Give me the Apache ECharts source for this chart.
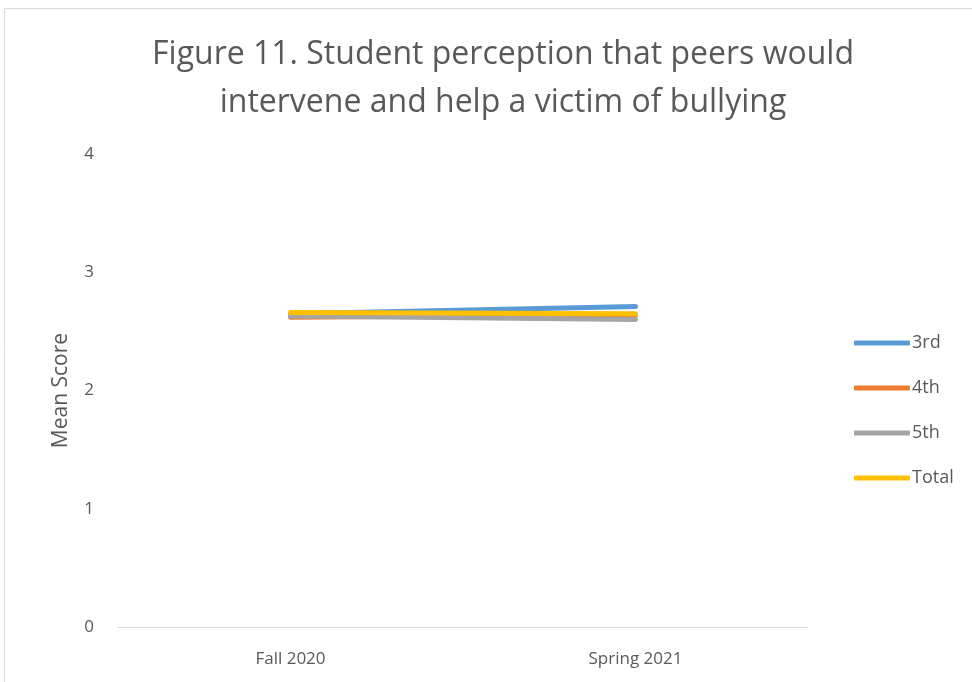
<!DOCTYPE html>
<html><head><meta charset="utf-8">
<script src="https://cdn.jsdelivr.net/npm/echarts@6/dist/echarts.min.js"></script>
<style>html,body{margin:0;padding:0;background:#fff}#c{width:972px;height:682px}</style>
</head><body><div id="c"></div>
<script>
const categories = ['Fall 2020', 'Spring 2021'];
const seriesNames = ['3rd', '4th', '5th', 'Total'];
const third = [2.65, 2.71];
const fourth = [2.62, 2.64];
const fifth = [2.63, 2.60];
const total = [2.66, 2.65];
const colors = ['#5b9bd5', '#ed7d31', '#a5a5a5', '#ffc000'];
const values = [third, fourth, fifth, total];

const chart = echarts.init(document.getElementById('c'));
const font = '"Open Sans", "Liberation Sans", sans-serif';
chart.setOption({
  animation: false,
  color: colors,
  graphic: [{type:'rect', shape:{x:4.5, y:8.5, width:1200, height:1200}, style:{fill:'none', stroke:'#d9d9d9', lineWidth:1}, silent:true}],
  title: {
    text: 'Figure 11. Student perception that peers would\nintervene and help a victim of bullying',
    left: 498, top: 26, textAlign: 'center',
    textStyle: {fontFamily: font, fontSize: 32, fontWeight: 'normal', color: '#595959', lineHeight: 48}
  },
  legend: {
    orient: 'vertical', left: 849, top: 329, itemGap: 27, itemWidth: 56, itemHeight: 5,
    icon: 'roundRect', data: seriesNames,
    textStyle: {fontFamily: font, fontSize: 18, color: '#595959', padding: [0,0,0,-3]}
  },
  grid: {left: 118, right: 164, top: 154, bottom: 55, containLabel: false},
  xAxis: {
    type: 'category', data: categories, boundaryGap: true,
    axisLine: {lineStyle: {color: '#d9d9d9', width: 1}}, axisTick: {show: false},
    axisLabel: {fontFamily: font, fontSize: 17, color: '#595959', margin: 24}
  },
  yAxis: {
    type: 'value', min: 0, max: 4, interval: 1,
    name: 'Mean Score', nameLocation: 'middle', nameGap: 46, nameRotate: 90,
    nameTextStyle: {fontFamily: font, fontSize: 21, color: '#595959'},
    axisLine: {show: false}, axisTick: {show: false}, splitLine: {show: false},
    axisLabel: {fontFamily: font, fontSize: 17, color: '#595959', margin: 24}
  },
  series: seriesNames.map((n, i) => ({
    name: n, type: 'line', data: values[i], symbol: 'none',
    lineStyle: {width: 5, color: colors[i], cap: 'round'}, itemStyle: {color: colors[i]}, z: 2 + i
  }))
});
</script></body></html>
